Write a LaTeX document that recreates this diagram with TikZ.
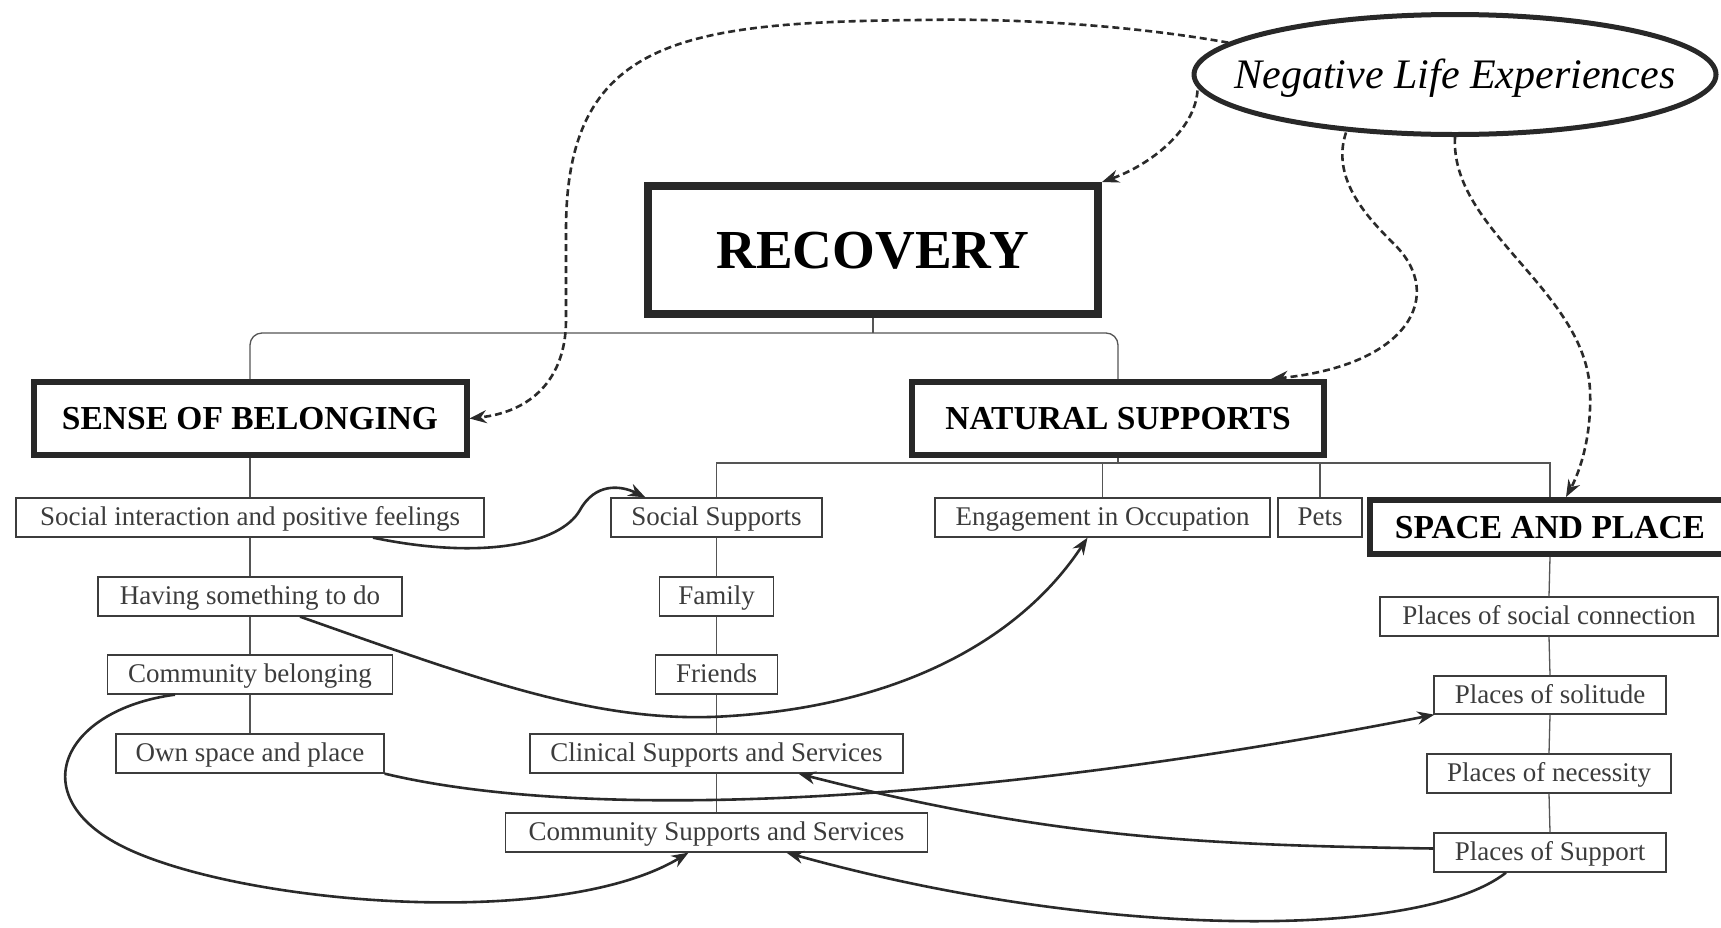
\documentclass[tikz,border=0pt]{standalone}
\usepackage{fontspec}
\setmainfont{Liberation Serif}
\usetikzlibrary{shapes.geometric,arrows.meta,calc}
\definecolor{leafc}{RGB}{60,60,60}
\definecolor{hdrc}{RGB}{40,40,40}
\definecolor{arrc}{RGB}{42,42,42}
\definecolor{treec}{RGB}{85,85,85}
\begin{document}
\begin{tikzpicture}[x=1pt,y=-1pt,
  hdr/.style={draw=hdrc, fill=white, line width=6pt, inner sep=0pt, text=black,
    font=\bfseries\fontsize{33.5}{36}\selectfont, text height=22.5pt, text depth=0pt, minimum height=73pt},
  leaf/.style={draw=leafc, fill=white, line width=1.3pt, inner sep=0pt, text=leafc,
    font=\fontsize{27}{30}\selectfont, text height=20pt, text depth=4pt, minimum height=39pt},
  tree/.style={draw=treec, line width=1.3pt},
  dasharr/.style={draw=arrc, line width=2.6pt, dash pattern=on 7pt off 4pt, -{Stealth[length=17pt,width=13pt]}},
  solarr/.style={draw=arrc, line width=2.6pt, -{Stealth[length=17pt,width=13pt]}}
]
\useasboundingbox (0,0) rectangle (1721,927);
\fill[white] (0,0) rectangle (1721,927);
\clip (0,0) rectangle (1721,927);

% main nodes
\node[ellipse, draw=hdrc, fill=white, line width=5pt, inner xsep=-40pt, inner ysep=20pt,
  minimum width=522pt, minimum height=120pt,
  font=\itshape\fontsize{42}{46}\selectfont, text height=28pt, text depth=0pt] (neg) at (1455,74.5) {Negative Life Experiences};
\node[hdr, line width=8pt, minimum width=450pt, minimum height=128pt, font=\bfseries\fontsize{55}{60}\selectfont, text height=37pt] (rec) at (873,250) {RECOVERY};
\node[hdr, minimum width=433pt] (sob) at (250,418.5) {SENSE OF BELONGING};
\node[hdr, minimum width=412pt] (ns) at (1118,418.5) {NATURAL SUPPORTS};
\node[hdr, minimum width=360pt, minimum height=54pt] (sp) at (1550,527) {SPACE AND PLACE};

% left column
\node[leaf, minimum width=468pt] (sip) at (250,517.5) {Social interaction and positive feelings};
\node[leaf, minimum width=304pt] (hst) at (250,596.5) {Having something to do};
\node[leaf, minimum width=285pt] (cb) at (250,674.5) {Community belonging};
\node[leaf, minimum width=268pt] (osp) at (250,753.5) {Own space and place};

% middle column
\node[leaf, minimum width=211pt] (ss) at (716.5,517.5) {Social Supports};
\node[leaf, minimum width=114pt] (fam) at (716.5,596.5) {Family};
\node[leaf, minimum width=122pt] (fr) at (716.5,674.5) {Friends};
\node[leaf, minimum width=373pt] (css) at (716.5,753.5) {Clinical Supports and Services};
\node[leaf, minimum width=422pt] (coss) at (716.5,832.5) {Community Supports and Services};
\node[leaf, minimum width=335pt] (eio) at (1102.5,517.5) {Engagement in Occupation};
\node[leaf, minimum width=84pt] (pets) at (1320,517.5) {Pets};

% right column
\node[leaf, minimum width=338pt] (psc) at (1549,616.5) {Places of social connection};
\node[leaf, minimum width=232pt, minimum height=38pt] (psol) at (1550,695) {Places of solitude};
\node[leaf, minimum width=244pt] (pnec) at (1549,773.5) {Places of necessity};
\node[leaf, minimum width=232pt] (psup) at (1550,852.5) {Places of Support};

% tree connectors
\coordinate (bar1) at (0,333);
\coordinate (bar2) at (0,463);
\draw[tree] (rec.south) -- (rec.south |- bar1);
\draw[tree, rounded corners=12pt] (sob.north) -- (sob.north |- bar1) -- (ns.north |- bar1) -- (ns.north);
\draw[tree] (ns.south) -- (ns.south |- bar2);
\draw[tree] (ss.north) -- (ss.north |- bar2) -- (sp.north |- bar2) -- (sp.north);
\draw[tree] (eio.north) -- (eio.north |- bar2);
\draw[tree] (pets.north) -- (pets.north |- bar2);
\draw[tree] (sob.south) -- (sip.north) (sip.south) -- (hst.north) (hst.south) -- (cb.north) (cb.south) -- (osp.north);
\draw[tree] (ss.south) -- (fam.north) (fam.south) -- (fr.north) (fr.south) -- (css.north) (css.south) -- (coss.north);
\draw[tree] (sp.south) -- (psc.north) (psc.south) -- (psol.north) (psol.south) -- (pnec.north) (pnec.south) -- (psup.north);

% dashed arrows from Negative Life Experiences
\draw[dasharr] (neg.172) .. controls (1130,25) and (1010,18) .. (922,20)
  .. controls (680,22) and (566,40) .. (566,230) -- (566,320)
  .. controls (566,380) and (530,412) .. (sob.east);
\draw[dasharr] ($(neg.west)+(6,16)$) .. controls (1195,130) and (1150,165) .. (rec.north east);
\draw[dasharr] ($(neg.center)+(-109,58)$) .. controls (1330,180) and (1370,220) .. (1395,245)
  .. controls (1445,295) and (1410,365) .. ($(ns.north)+(153,0)$);
\draw[dasharr] (neg.south) .. controls (1450,230) and (1585,290) .. (1590,390)
  .. controls (1592,440) and (1578,475) .. ($(sp.north)+(16,0)$);

% solid arrows
\draw[solarr] ($(sip.south)+(123,0)$) .. controls (480,560) and (560,545) .. (580,510)
  .. controls (595,483) and (620,485) .. ($(ss.north west)+(35,0)$);
\draw[solarr] ($(hst.south)+(50,0)$) .. controls (480,680) and (600,725) .. (730,716)
  .. controls (900,705) and (1020,640) .. ($(eio.south)+(-15,0)$);
\draw[solarr] ($(cb.south)+(-75,0)$) .. controls (60,710) and (20,800) .. (130,850)
  .. controls (251,905) and (560,930) .. ($(coss.south)+(-28,0)$);
\draw[solarr] (osp.south east) .. controls (600,825) and (1000,800) .. ($(psol.south west)+(1,0)$);
\draw[solarr] ($(psup.west)+(0,-4)$) .. controls (1200,845) and (1050,838) .. ($(css.south)+(82,0)$);
\draw[solarr] ($(psup.south)+(-44,0)$) .. controls (1420,940) and (1100,940) .. ($(coss.south)+(70,0)$);
\end{tikzpicture}
\end{document}
